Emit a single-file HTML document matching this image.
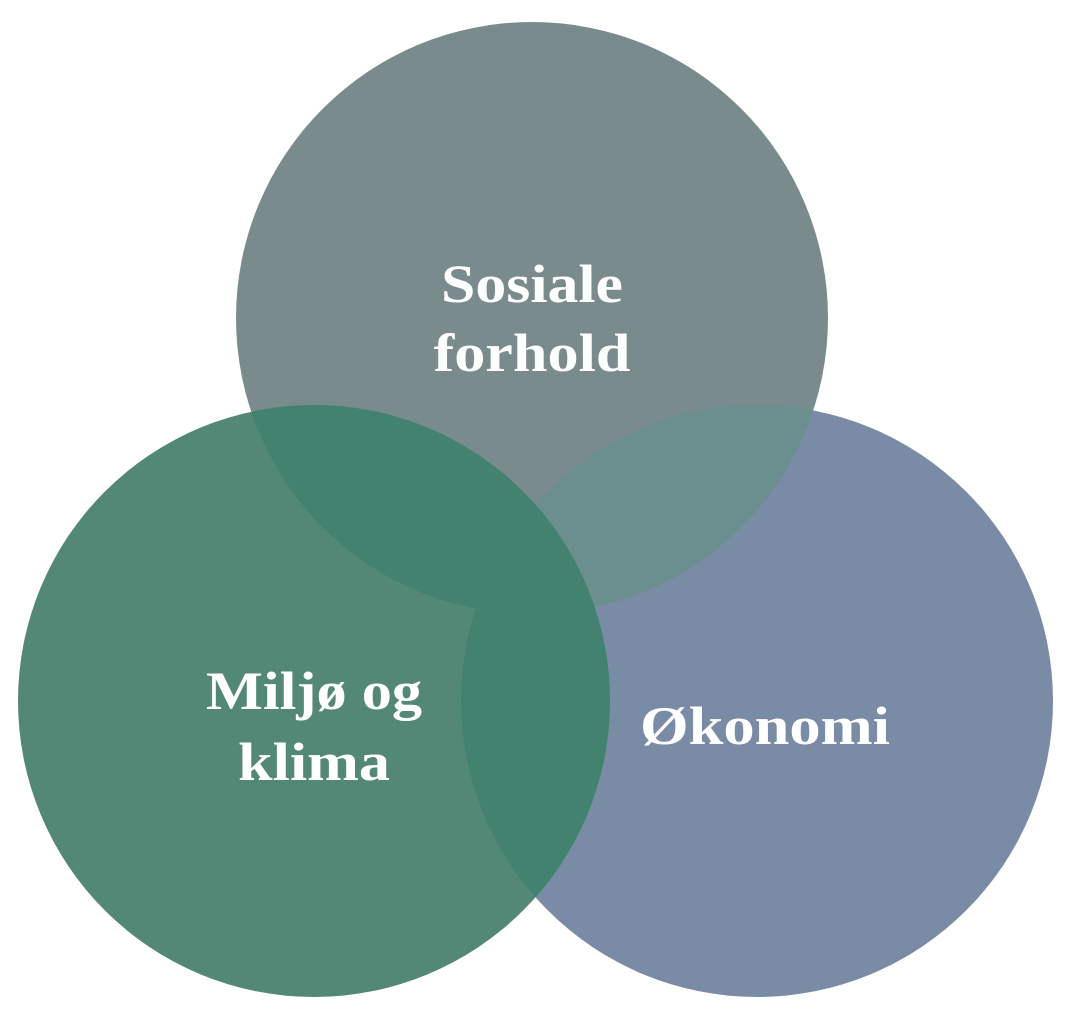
<!DOCTYPE html>
<html><head><style>
html,body{margin:0;padding:0;background:#fff;}
svg{display:block;}
text{font-family:"Liberation Serif",serif;font-weight:bold;font-size:54px;fill:#fff;text-anchor:middle;}
</style></head><body>
<svg width="1076" height="1023" viewBox="0 0 1076 1023">
<defs>
<clipPath id="cT"><circle cx="532" cy="318" r="296"/></clipPath>
<clipPath id="cL"><circle cx="314" cy="701" r="296"/></clipPath>
<clipPath id="cR"><circle cx="757" cy="701" r="296"/></clipPath>
</defs>
<circle cx="532" cy="318" r="296" fill="#798b8c"/>
<circle cx="757" cy="701" r="296" fill="#7a8ca5"/>
<circle cx="314" cy="701" r="296" fill="#548876"/>
<g clip-path="url(#cR)"><circle cx="532" cy="318" r="296" fill="#6b8e8f"/></g>
<g clip-path="url(#cL)"><circle cx="532" cy="318" r="296" fill="#43826f"/><circle cx="757" cy="701" r="296" fill="#43826f"/></g>
<text x="532" y="302" textLength="182" lengthAdjust="spacingAndGlyphs">Sosiale</text>
<text x="532" y="371" textLength="197" lengthAdjust="spacingAndGlyphs">forhold</text>
<text x="314" y="709" textLength="216" lengthAdjust="spacingAndGlyphs">Miljø og</text>
<text x="314" y="780" textLength="152" lengthAdjust="spacingAndGlyphs">klima</text>
<text x="765" y="744" textLength="250" lengthAdjust="spacingAndGlyphs">Økonomi</text>
</svg>
</body></html>
